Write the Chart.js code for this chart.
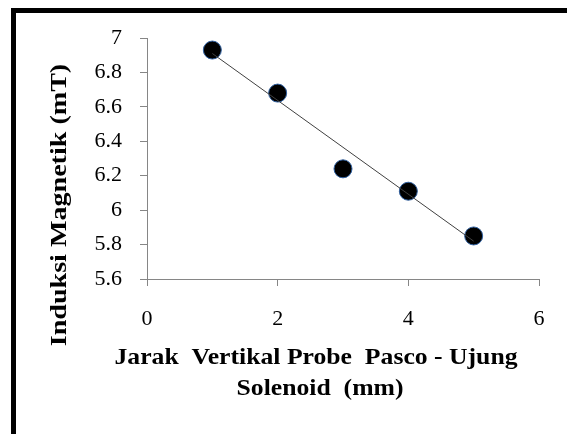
<!DOCTYPE html>
<html>
<head>
<meta charset="utf-8">
<script src="https://cdn.jsdelivr.net/npm/chart.js@4.4.1/dist/chart.umd.min.js"></script>
<style>
    body { margin: 0; background: #fff; }
    #wrap { position: relative; width: 567px; height: 434px; overflow: hidden; background: #fff; }
    #frame { position: absolute; left: 11px; top: 8px; width: 700px; height: 600px; border: 5px solid #000; }
    #chart { position: absolute; left: 0; top: 0; }
</style>
</head>
<body>
<div id="wrap">
    <div id="frame"></div>
    <canvas id="chart" width="567" height="434"></canvas>
</div>
<script>
// jarak (mm) vs induksi magnetik (mT)
const jarak = [1, 2, 3, 4, 5];
const induksi = [6.93, 6.68, 6.24, 6.11, 5.85];

// trendline ends
const trendX = [1, 5];
const trendY = [6.91, 5.82];

const xTicks = [0, 2, 4, 6];
const yTicks = [5.6, 5.8, 6, 6.2, 6.4, 6.6, 6.8, 7];

const xTitle = ['Jarak  Vertikal Probe  Pasco - Ujung', 'Solenoid  (mm)'];
const yTitle = 'Induksi Magnetik (mT)';

const axisGray = '#868686';

// axis titles are drawn by hand, Excel puts them off-centre and a bit stretched
const axisTitles = {
    id: 'axisTitles',
    afterDraw(chart) {
        const ctx = chart.ctx;
        ctx.save();
        ctx.fillStyle = '#000';
        ctx.textAlign = 'center';
        ctx.textBaseline = 'middle';
        ctx.font = 'bold 24px "Liberation Serif"';

        ctx.save();
        ctx.translate(316, 358);
        ctx.scale(1.07, 1);
        ctx.fillText(xTitle[0], 0, 0);
        ctx.restore();

        ctx.save();
        ctx.translate(320, 389);
        ctx.scale(1.07, 1);
        ctx.fillText(xTitle[1], 0, 0);
        ctx.restore();

        ctx.translate(60, 205);
        ctx.rotate(-Math.PI / 2);
        ctx.scale(1.17, 1);
        ctx.fillText(yTitle, 0, 0);
        ctx.restore();
    }
};

const ctx = document.getElementById('chart').getContext('2d');
const chart = new Chart(ctx, {
    type: 'scatter',
    data: {
        datasets: [
            {
                label: 'trend',
                data: trendX.map((x, i) => ({ x: x, y: trendY[i] })),
                showLine: true,
                borderColor: '#404040',
                borderWidth: 1,
                pointRadius: 0
            },
            {
                label: 'data',
                data: jarak.map((x, i) => ({ x: x, y: induksi[i] })),
                pointRadius: 9,
                pointBackgroundColor: '#000',
                pointBorderColor: '#2f5f9f',
                pointBorderWidth: 1
            }
        ]
    },
    options: {
        responsive: false,
        animation: false,
        devicePixelRatio: 1,
        layout: { padding: { left: 0, right: 28, top: 38, bottom: 30 } },
        plugins: {
            legend: { display: false },
            tooltip: { enabled: false }
        },
        scales: {
            x: {
                type: 'linear',
                min: 0,
                max: 6,
                afterBuildTicks: scale => { scale.ticks = xTicks.map(v => ({ value: v })); },
                afterFit: scale => { scale.height = 125; },
                grid: { drawOnChartArea: false, color: axisGray, tickLength: 7 },
                border: { color: axisGray, width: 1 },
                ticks: {
                    color: '#000',
                    padding: 20,
                    font: { family: 'Liberation Serif', size: 22 },
                    callback: v => String(v)
                }
            },
            y: {
                type: 'linear',
                min: 5.6,
                max: 7,
                afterBuildTicks: scale => { scale.ticks = yTicks.map(v => ({ value: v })); },
                afterFit: scale => { scale.width = 147; },
                grid: { drawOnChartArea: false, color: axisGray, tickLength: 7 },
                border: { color: axisGray, width: 1 },
                ticks: {
                    color: '#000',
                    padding: 18,
                    font: { family: 'Liberation Serif', size: 22 },
                    callback: v => String(v)
                }
            }
        }
    },
    plugins: [axisTitles]
});
</script>
</body>
</html>
